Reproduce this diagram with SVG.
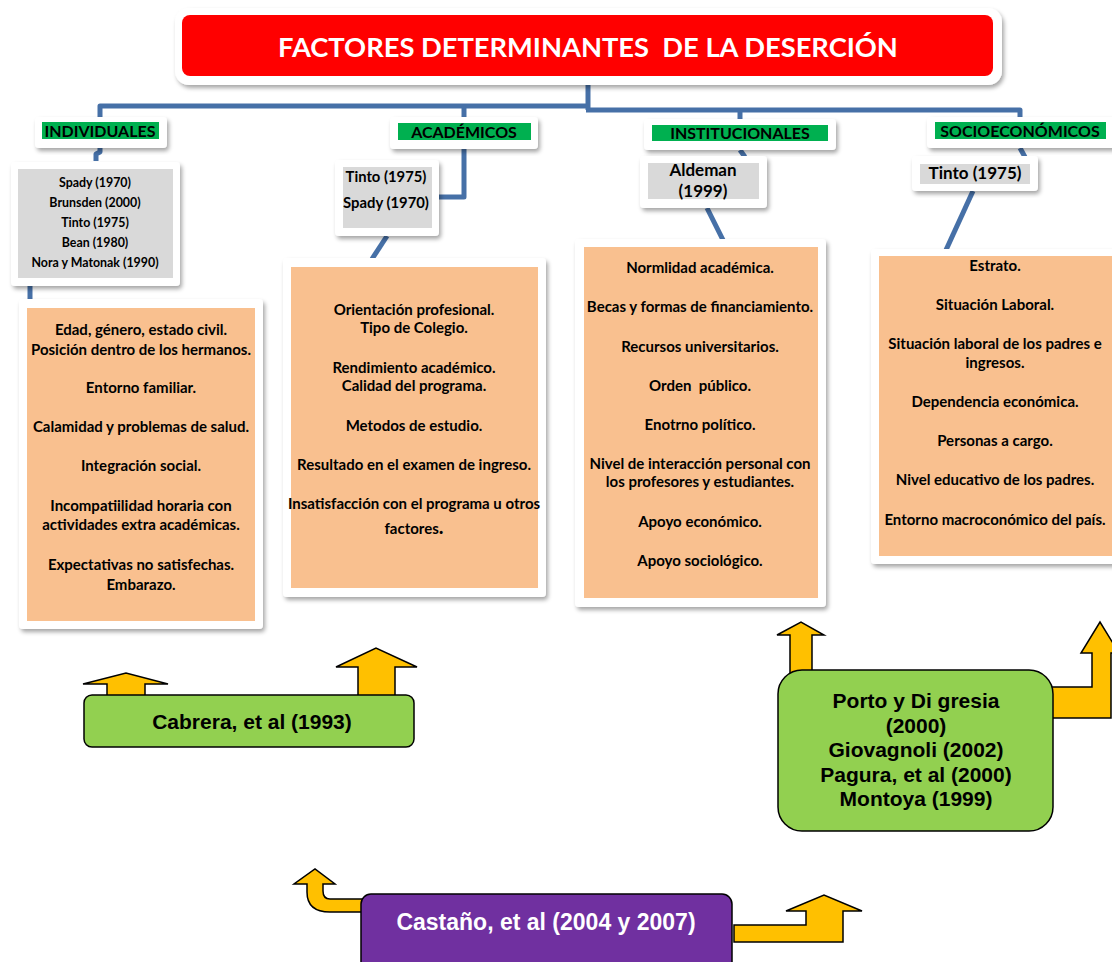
<svg xmlns="http://www.w3.org/2000/svg" width="1112" height="962" viewBox="0 0 1112 962">
<defs>
<filter id="sh" x="-10%" y="-10%" width="130%" height="130%">
<feDropShadow dx="2" dy="3" stdDeviation="2" flood-color="#000" flood-opacity="0.35"/>
</filter>
<style>
.frame{fill:#fff;filter:url(#sh)}
.lbl{fill:#00B050}
.gray{fill:#D9D9D9}
.org{fill:#F9C08F}
.c{font-family:Lato,"Liberation Sans",sans-serif;font-weight:bold;fill:#000;text-anchor:middle}
.a{font-family:"Liberation Sans",Arial,sans-serif;font-weight:bold;text-anchor:middle}
.con{fill:none;stroke:#4670A7;stroke-width:5;stroke-linejoin:round}
.arr{fill:#FFC000;stroke:#000;stroke-width:1.5;stroke-linejoin:miter}
.gbox{fill:#92D050;stroke:#000;stroke-width:1.5}
</style>
</defs>
<rect width="1112" height="962" fill="#fff"/>

<g id="connectors">
<path class="con" d="M588,84 V110"/>
<path class="con" d="M100,117 V106 H590"/>
<path class="con" d="M586,110 H1020 V119"/>
<path class="con" d="M464,106 V118"/>
<path class="con" d="M740,110 V120"/>
<path class="con" d="M100,148 V152 L96,154 V161"/>
<path class="con" d="M30,286 V300"/>
<path class="con" d="M464,149 V197 H439"/>
<path class="con" d="M387,236 L372,259"/>
<path class="con" d="M740,150 L745,157"/>
<path class="con" d="M707,208 L723,240"/>
<path class="con" d="M1020,148 L1025,157"/>
<path class="con" d="M973,191 L946,250"/>
</g>

<g id="title">
<rect class="frame" x="175" y="8" width="827" height="77" rx="14"/>
<rect x="182" y="15" width="811" height="61" rx="8" fill="#FF0000"/>
<text class="c" x="588" y="57" font-size="27.3" style="fill:#fff" xml:space="preserve">FACTORES DETERMINANTES  DE LA DESERCIÓN</text>
</g>

<g id="h-individuales">
<rect class="frame" x="35" y="117" width="132" height="31" rx="4"/>
<rect class="lbl" x="42" y="122" width="117" height="17"/>
<text class="c" x="100" y="137" font-size="16">INDIVIDUALES</text>
</g>
<g id="h-academicos">
<rect class="frame" x="390" y="117" width="148" height="32" rx="4"/>
<rect class="lbl" x="398" y="123" width="133" height="17"/>
<text class="c" x="464" y="138" font-size="16">ACADÉMICOS</text>
</g>
<g id="h-institucionales">
<rect class="frame" x="644" y="119" width="192" height="31" rx="4"/>
<rect class="lbl" x="652" y="125" width="176" height="16"/>
<text class="c" x="740" y="139" font-size="16">INSTITUCIONALES</text>
</g>
<g id="h-socioeconomicos">
<rect class="frame" x="927" y="117" width="190" height="31" rx="4"/>
<rect class="lbl" x="935" y="122" width="171" height="17"/>
<text class="c" x="1020" y="137" font-size="16">SOCIOECONÓMICOS</text>
</g>

<g id="a-individuales">
<rect class="frame" x="11" y="162" width="169" height="124" rx="4"/>
<rect class="gray" x="18" y="169" width="155" height="109"/>
<g font-size="12.4">
<text class="c" x="95" y="187">Spady (1970)</text>
<text class="c" x="95" y="207">Brunsden (2000)</text>
<text class="c" x="95" y="227">Tinto (1975)</text>
<text class="c" x="95" y="247">Bean (1980)</text>
<text class="c" x="95" y="267">Nora y Matonak (1990)</text>
</g>
</g>
<g id="a-academicos">
<rect class="frame" x="335" y="160" width="104" height="76" rx="4"/>
<rect class="gray" x="343" y="167" width="89" height="61"/>
<text class="c" x="386" y="182" font-size="14.8">Tinto (1975)</text>
<text class="c" x="386" y="208" font-size="14.8">Spady (1970)</text>
</g>
<g id="a-institucionales">
<rect class="frame" x="640" y="156" width="127" height="52" rx="4"/>
<rect class="gray" x="648" y="163" width="111" height="36"/>
<text class="c" x="703" y="176" font-size="17">Aldeman</text>
<text class="c" x="703" y="197" font-size="17">(1999)</text>
</g>
<g id="a-socioeconomicos">
<rect class="frame" x="912" y="156" width="126" height="35" rx="4"/>
<rect class="gray" x="920" y="164" width="110" height="20"/>
<text class="c" x="975" y="179" font-size="17">Tinto (1975)</text>
</g>

<g id="f-individuales">
<rect class="frame" x="19" y="299" width="244" height="330" rx="4"/>
<rect class="org" x="27" y="308" width="228" height="313"/>
<g font-size="15">
<text class="c" x="141" y="335">Edad, género, estado civil.</text>
<text class="c" x="141" y="355">Posición dentro de los hermanos.</text>
<text class="c" x="141" y="393">Entorno familiar.</text>
<text class="c" x="141" y="432">Calamidad y problemas de salud.</text>
<text class="c" x="141" y="471">Integración social.</text>
<text class="c" x="141" y="511">Incompatiilidad horaria con</text>
<text class="c" x="141" y="530">actividades extra académicas.</text>
<text class="c" x="141" y="570">Expectativas no satisfechas.</text>
<text class="c" x="141" y="590">Embarazo.</text>
</g>
</g>
<g id="f-academicos">
<rect class="frame" x="283" y="258" width="263" height="339" rx="4"/>
<rect class="org" x="291" y="267" width="247" height="321"/>
<g font-size="15">
<text class="c" x="414" y="315">Orientación profesional.</text>
<text class="c" x="414" y="333">Tipo de Colegio.</text>
<text class="c" x="414" y="373">Rendimiento académico.</text>
<text class="c" x="414" y="391">Calidad del programa.</text>
<text class="c" x="414" y="431">Metodos de estudio.</text>
<text class="c" x="414" y="470">Resultado en el examen de ingreso.</text>
<text class="c" x="414" y="509">Insatisfacción con el programa u otros</text>
<text class="c" x="414" y="534">factores<tspan font-size="20">.</tspan></text>
</g>
</g>
<g id="f-institucionales">
<rect class="frame" x="575" y="239" width="251" height="368" rx="4"/>
<rect class="org" x="584" y="247" width="234" height="351"/>
<g font-size="15">
<text class="c" x="700" y="273">Normlidad académica.</text>
<text class="c" x="700" y="312">Becas y formas de financiamiento.</text>
<text class="c" x="700" y="352">Recursos universitarios.</text>
<text class="c" x="700" y="391" xml:space="preserve">Orden  público.</text>
<text class="c" x="700" y="430">Enotrno político.</text>
<text class="c" x="700" y="469">Nivel de interacción personal con</text>
<text class="c" x="700" y="487">los profesores y estudiantes.</text>
<text class="c" x="700" y="527">Apoyo económico.</text>
<text class="c" x="700" y="566">Apoyo sociológico.</text>
</g>
</g>
<g id="f-socioeconomicos">
<rect class="frame" x="871" y="249" width="250" height="315" rx="4"/>
<rect class="org" x="879" y="256" width="240" height="300"/>
<g font-size="15">
<text class="c" x="995" y="271">Estrato.</text>
<text class="c" x="995" y="310">Situación Laboral.</text>
<text class="c" x="995" y="349">Situación laboral de los padres e</text>
<text class="c" x="995" y="368">ingresos.</text>
<text class="c" x="995" y="407">Dependencia económica.</text>
<text class="c" x="995" y="446">Personas a cargo.</text>
<text class="c" x="995" y="485">Nivel educativo de los padres.</text>
<text class="c" x="995" y="525">Entorno macroconómico del país.</text>
</g>
</g>

<g id="arrows">
<path class="arr" d="M107,697 V684 H83 L126,673 L168,684 H145 V697 Z"/>
<path class="arr" d="M358,697 V667 H336 L376,648 L417,667 H395 V697 Z"/>
<path class="arr" d="M790,675 V635 H777 L801,622 L824,635 H812 V675 Z"/>
<path class="arr" d="M1050,687 H1092 V653 H1081 L1100,622 L1119,653 H1111 V718 H1050 Z"/>
<path class="arr" d="M364,899 H330 Q323,899 323,891 V884 H335 L315,869 L294,884 H307 V892 Q307,912 330,912 H364 Z"/>
<path class="arr" d="M734,925 H806 V911 H786 L824,895 L862,911 H843 V942 H734 Z"/>
</g>

<g id="cabrera">
<rect class="gbox" x="84" y="695" width="330" height="52" rx="8"/>
<text class="a" x="252" y="729" font-size="21">Cabrera, et al (1993)</text>
</g>
<g id="porto">
<rect class="gbox" x="778" y="670" width="275" height="161" rx="24"/>
<g font-size="21">
<text class="a" x="916" y="708">Porto y Di gresia</text>
<text class="a" x="916" y="733">(2000)</text>
<text class="a" x="916" y="757">Giovagnoli (2002)</text>
<text class="a" x="916" y="782">Pagura, et al (2000)</text>
<text class="a" x="916" y="806">Montoya (1999)</text>
</g>
</g>
<g id="castano">
<rect x="361" y="894" width="371" height="80" rx="10" fill="#7030A0" stroke="#000" stroke-width="1.5"/>
<text class="a" x="546" y="930" font-size="23" fill="#fff">Castaño, et al (2004 y 2007)</text>
</g>
</svg>
